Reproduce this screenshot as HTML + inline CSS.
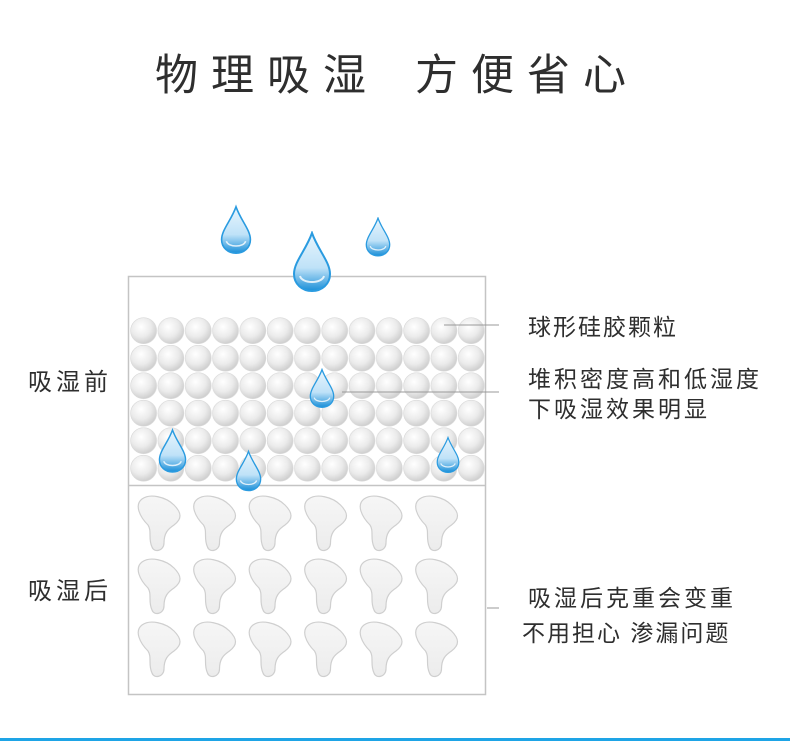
<!DOCTYPE html>
<html><head><meta charset="utf-8"><style>
html,body{margin:0;padding:0;background:#fff;width:790px;height:741px;overflow:hidden}
svg{display:block}
text{font-family:"Liberation Sans","Noto Sans CJK SC",sans-serif;fill:#2e2e2e}
</style></head><body>
<svg width="790" height="741" viewBox="0 0 790 741">
<defs>
<radialGradient id="sg" cx="0.4" cy="0.35" r="0.65">
<stop offset="0" stop-color="#ffffff"/><stop offset="0.6" stop-color="#ebebeb"/><stop offset="1" stop-color="#cfcfcf"/>
</radialGradient>
<pattern id="sp" x="130" y="317" width="27.3" height="27.5" patternUnits="userSpaceOnUse">
<circle cx="13.6" cy="13.7" r="13" fill="url(#sg)" stroke="#d8d8d8" stroke-width="0.6"/>
</pattern>
<linearGradient id="bg" x1="0" y1="0" x2="0" y2="1">
<stop offset="0" stop-color="#f6f6f6"/><stop offset="1" stop-color="#ececec"/>
</linearGradient>
<pattern id="bp" x="136" y="493" width="55.5" height="63" patternUnits="userSpaceOnUse">
<path d="M6,6 C14,0 30,4 38,12 C46,20 46,26 38,32 C32,36 28,40 28,50 C28,58 18,60 16,54 C12,46 16,38 12,32 C4,24 -2,12 6,6 Z" fill="url(#bg)" stroke="#cfcfcf" stroke-width="1.2"/>
</pattern>
<linearGradient id="dg" x1="0" y1="0" x2="0" y2="1">
<stop offset="0" stop-color="#e8f5fd"/><stop offset="0.6" stop-color="#bfe2f8"/><stop offset="1" stop-color="#1a8fd8"/>
</linearGradient>
<symbol id="drop" viewBox="0 0 40 60">
<path d="M20,1 C26,18 38,30 38,42 C38,52 30,59 20,59 C10,59 2,52 2,42 C2,30 14,18 20,1 Z" fill="url(#dg)" stroke="#2a9be0" stroke-width="2"/>
<path d="M8,44 C10,52 30,52 32,44" fill="none" stroke="#fff" stroke-width="2" opacity="0.8"/>
</symbol>
</defs>
<text x="155" y="90" font-size="43" letter-spacing="13">物理吸湿</text>
<text x="415" y="90" font-size="43" letter-spacing="13">方便省心</text>

<rect x="128.5" y="276.5" width="357" height="418" fill="#fff" stroke="#c4c4c4" stroke-width="1.5"/>
<rect x="130" y="317" width="355" height="165" fill="url(#sp)"/>
<line x1="128" y1="485.5" x2="486" y2="485.5" stroke="#c4c4c4" stroke-width="1.5"/>
<rect x="134" y="490" width="334" height="190" fill="url(#bp)"/>

<use href="#drop" x="220" y="204" width="32" height="52"/>
<use href="#drop" x="292" y="231" width="40" height="62"/>
<use href="#drop" x="365" y="217" width="26" height="40"/>
<use href="#drop" x="309" y="368" width="26" height="41"/>
<use href="#drop" x="158" y="428" width="29" height="46"/>
<use href="#drop" x="235" y="449" width="27" height="44"/>
<use href="#drop" x="436" y="436" width="24" height="38"/>

<line x1="444" y1="325" x2="499" y2="325" stroke="#999" stroke-width="1"/>
<line x1="342" y1="392" x2="499" y2="392" stroke="#999" stroke-width="1"/>
<line x1="487" y1="608" x2="499" y2="608" stroke="#999" stroke-width="1"/>

<text x="28" y="390" font-size="24" letter-spacing="4">吸湿前</text>
<text x="28" y="599" font-size="24" letter-spacing="4">吸湿后</text>

<text x="528" y="335" font-size="23" letter-spacing="2">球形硅胶颗粒</text>
<text x="528" y="387" font-size="23" letter-spacing="3">堆积密度高和低湿度</text>
<text x="528" y="417" font-size="23" letter-spacing="3">下吸湿效果明显</text>
<text x="528" y="606" font-size="23" letter-spacing="3">吸湿后克重会变重</text>
<text x="522" y="641" font-size="23" letter-spacing="2">不用担心 渗漏问题</text>

<rect x="0" y="738" width="790" height="3" fill="#1ea4e6"/>
</svg>
</body></html>
